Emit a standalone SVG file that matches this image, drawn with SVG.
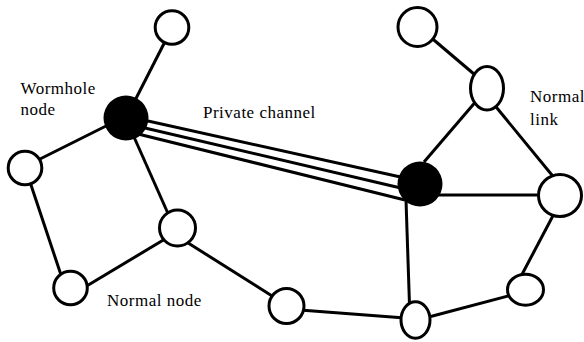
<svg xmlns="http://www.w3.org/2000/svg" width="584" height="342" viewBox="0 0 584 342">
<style>
.n{fill:#fff;stroke:#000;stroke-width:3}
.w{fill:#000;stroke:none}
.e line{stroke:#000;stroke-width:3;stroke-linecap:butt}
.t{font-family:'Liberation Serif','Times New Roman','DejaVu Serif',serif;font-size:17px;fill:#000;letter-spacing:0.5px}
</style>
<rect width="584" height="342" fill="#fff"/>
<g id="connectors" class="e">
<line x1="175" y1="22" x2="126" y2="118"/>
<line x1="110" y1="124" x2="34" y2="162"/>
<line x1="130" y1="128" x2="170" y2="218"/>
<line x1="28" y1="176" x2="63" y2="281"/>
<line x1="80" y1="290" x2="170" y2="236"/>
<line x1="185" y1="241" x2="280" y2="301"/>
<line x1="300" y1="310" x2="405" y2="318"/>
<line x1="425" y1="318" x2="512" y2="295"/>
<line x1="518" y1="282" x2="556" y2="210"/>
<line x1="406" y1="200" x2="409.5" y2="305"/>
<line x1="430" y1="195" x2="545" y2="195"/>
<line x1="424" y1="162" x2="478" y2="99"/>
<line x1="492" y1="102" x2="556" y2="180"/>
<line x1="428" y1="35" x2="481" y2="80"/>
<line x1="130" y1="117" x2="405" y2="178"/>
<line x1="130" y1="124.5" x2="405" y2="189"/>
<line x1="130" y1="132" x2="405" y2="200"/>
</g>
<g id="n_top_left"><circle class="n" cx="172" cy="27.5" r="16.8"/></g>
<g id="wormhole_node"><circle class="w" cx="126" cy="118" r="22.5"/></g>
<g id="n_left"><circle class="n" cx="25" cy="168" r="16.8"/></g>
<g id="n_bottom_left"><circle class="n" cx="70.5" cy="288" r="16.8"/></g>
<g id="n_mid"><circle class="n" cx="177.5" cy="228" r="18"/></g>
<g id="n_bottom_mid"><circle class="n" cx="286.5" cy="306" r="17.5"/></g>
<g id="n_bottom_center"><ellipse class="n" cx="415.5" cy="320" rx="14.5" ry="18.2"/></g>
<g id="n_bottom_right"><ellipse class="n" cx="525.5" cy="289.7" rx="18" ry="15.5"/></g>
<g id="n_right"><ellipse class="n" cx="560" cy="195.5" rx="21.5" ry="21"/></g>
<g id="wormhole_node_2"><circle class="w" cx="420" cy="184" r="22.5"/></g>
<g id="n_top_right"><circle class="n" cx="417.5" cy="27" r="19.5"/></g>
<g id="n_upper_right"><ellipse class="n" cx="487" cy="88.3" rx="16.5" ry="21.8"/></g>
<g id="labels" font-family="Liberation Serif, Times New Roman, serif">
<text class="t" x="20.5" y="93.5">Wormhole</text>
<text class="t" x="20.5" y="114.5">node</text>
<text class="t" x="203" y="118" letter-spacing="1">Private channel</text>
<text class="t" x="530" y="102">Normal</text>
<text class="t" x="530" y="124.5">link</text>
<text class="t" x="107" y="306">Normal node</text>
</g>
</svg>
